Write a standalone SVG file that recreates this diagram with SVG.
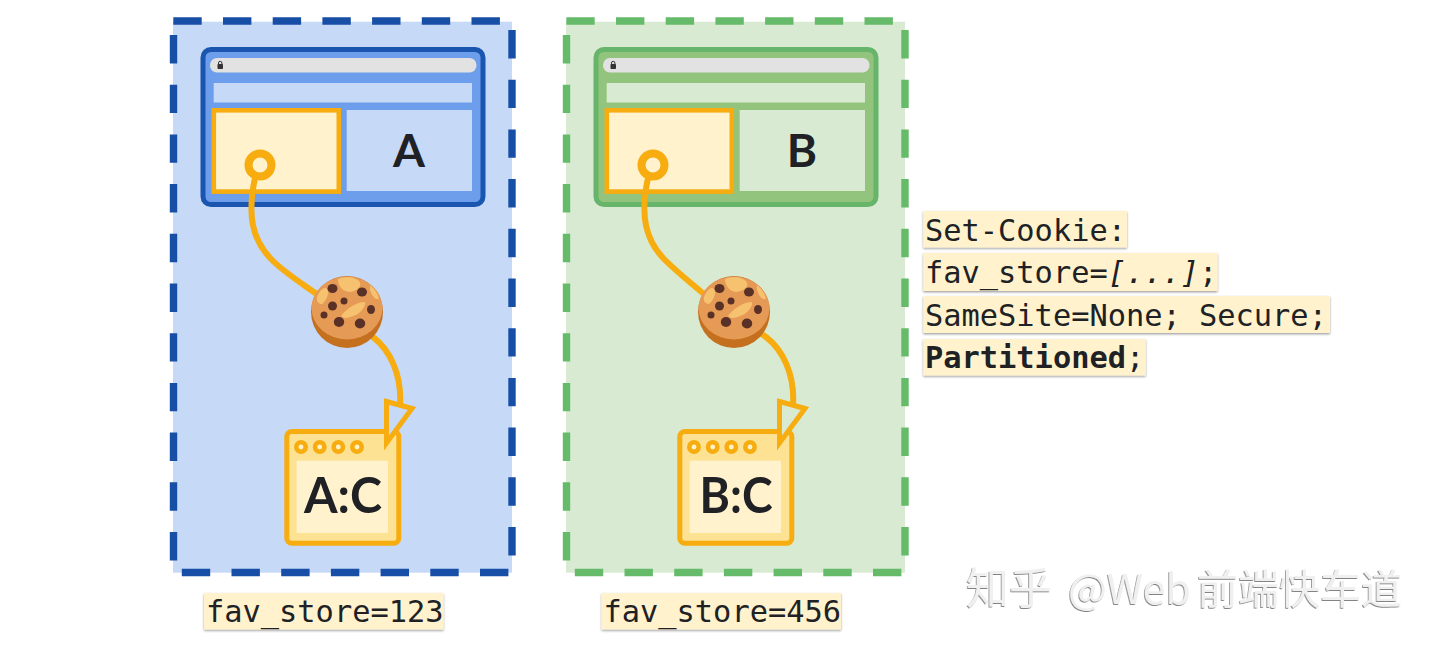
<svg xmlns="http://www.w3.org/2000/svg" width="1440" height="647" viewBox="0 0 1440 647">
<style>
.bg{fill:#fff}
.dash{fill:none;stroke-width:7.4;stroke-dasharray:28.4 21.3;stroke:var(--d)}
.blue{--d:#174ea6;--b:#1a56b0;--m:#6d9eeb;--l:#c6d9f7}
.green{--d:#66bb6a;--b:#66b56b;--m:#93c47d;--l:#d9ead3}
.panel,.light{fill:var(--l);stroke:none}
.frame{stroke-width:5;fill:var(--m);stroke:var(--b)}
.bar{fill:#e2e2e2}
.lock{fill:#333}
.embed{fill:#fff2cc;stroke:#f7ac10;stroke-width:4.6}
.ring{fill:#fff2cc;stroke:#f7ac10;stroke-width:8}
.store{fill:#fde293;stroke:#f7ac10;stroke-width:5}
.storein{fill:#fff2cc}
.dot{fill:#fff2cc;stroke:#f7ac10;stroke-width:4.500}
.big{font-family:Lato,"Liberation Sans",sans-serif;font-weight:700;fill:#202124;text-anchor:middle}
.curve{fill:none;stroke:#f7ac10;stroke-width:6;stroke-linecap:round}
.head{stroke:#f7ac10;stroke-width:5;stroke-linejoin:miter;fill:var(--l)}
.code{fill:#fff2cc;filter:url(#sh)}
.mono{font-family:"DejaVu Sans Mono","Liberation Mono",monospace;font-size:30.350px;fill:#202124}
.wm{font-family:"Noto Sans CJK SC","Liberation Sans",sans-serif;font-size:41px;fill:#f0f0f0;filter:url(#emb)}
</style>
<defs>
<filter id="sh" x="-5%" y="-10%" width="110%" height="125%"><feDropShadow dx="0" dy="1.2" stdDeviation="0.8" flood-color="#000" flood-opacity="0.4"/></filter>
<filter id="emb" x="-5%" y="-10%" width="110%" height="120%"><feDropShadow dx="-0.8" dy="1" stdDeviation="0.5" flood-color="#777" flood-opacity="0.9"/></filter>
<g id="cookie">
<circle r="36" fill="#c4701f"/>
<ellipse cx="0" cy="-4" rx="35.500" ry="31.500" fill="#e59a56"/>
<path d="M-9-33C-2-36 6-36 12-31C16-26 10-21 3-20C-4-20-9-26-9-33ZM-30-15C-27-22-23-26-20-23C-17-19-21-11-25-8C-28-8-31-10-30-15ZM-6 4C0-4 10-10 18-10C19-5 12 3 6 4C2 6-3 7-6 4ZM23-27C28-23 31-18 32-13C28-12 25-16 23-22Z" fill="#f6c26f"/>
<g fill="#5a3127"><ellipse cx="-14.500" cy="-23.500" rx="5" ry="4.500"/><ellipse cx="15" cy="-20" rx="5" ry="4.500"/><ellipse cx="-3" cy="-11" rx="3.500" ry="3.500"/><ellipse cx="-14.500" cy="-6" rx="4.500" ry="4.500"/><ellipse cx="24" cy="-2.500" rx="4" ry="4.500"/><ellipse cx="-23" cy="3" rx="3.500" ry="3.500"/><ellipse cx="-8" cy="10" rx="5.200" ry="5"/><ellipse cx="13" cy="11.500" rx="5.200" ry="5"/></g>
</g>
<g id="browser">
<rect class="frame" x="203" y="49.500" width="280" height="155" rx="8"/>
<rect class="bar" x="210" y="58" width="266.500" height="14.500" rx="7"/>
<rect class="lock" x="217.500" y="64" width="5.500" height="5" rx="0.800"/>
<path d="M218.500 64.500v-1.500a1.700 1.700 0 0 1 3.400 0v1.500" fill="none" stroke="#333" stroke-width="1"/>
<rect class="light" x="213.700" y="83" width="258.300" height="19.500"/>
<rect class="light" x="346.700" y="110" width="125.300" height="81"/>
<rect class="embed" x="213.800" y="110.300" width="125" height="81.300"/>
</g>
<g id="store">
<rect class="store" x="286.800" y="431.500" width="112" height="111.700" rx="5"/>
<rect class="storein" x="296.700" y="460.700" width="91.300" height="72.300"/>
<circle class="dot" cx="301" cy="447" r="4.700"/><circle class="dot" cx="319.700" cy="447" r="4.700"/><circle class="dot" cx="338.300" cy="447" r="4.700"/><circle class="dot" cx="357" cy="447" r="4.700"/>
</g>
</defs>
<rect class="bg" width="1440" height="647"/>

<g id="partition-a" class="blue">
<rect class="panel" x="173" y="21.700" width="339" height="551"/>
<path class="dash" d="M173.300 21H512"/>
<path class="dash" d="M512 30V573"/>
<path class="dash" d="M508.400 572.500H173"/>
<path class="dash" d="M173.500 35V573"/>
</g>
<g id="partition-b" class="green">
<rect class="panel" x="566" y="21.700" width="339" height="551"/>
<path class="dash" d="M566.300 21H905"/>
<path class="dash" d="M905 30V573"/>
<path class="dash" d="M901.400 572.500H566"/>
<path class="dash" d="M566.500 35V573"/>
</g>

<g id="browser-a" class="blue"><use href="#browser"/><text class="big" x="409" y="167" font-size="46">A</text></g>
<g id="browser-b" class="green"><use href="#browser" x="393"/><text class="big" x="802" y="167" font-size="46">B</text></g>

<g id="store-a"><use href="#store"/><text class="big" x="343" y="513" font-size="50" textLength="78" lengthAdjust="spacingAndGlyphs">A:C</text></g>
<g id="store-b"><use href="#store" x="393"/><text class="big" x="736" y="513" font-size="50" textLength="73" lengthAdjust="spacingAndGlyphs">B:C</text></g>

<g id="connectors">
<path class="curve" d="M255 178C247 215 252 240 272 260C285 273 300 282 318 295L345 312L373 337C390 350 402 375 400 405"/>
<polygon class="head blue" points="386.500,401.500 412,408.500 386.500,443"/>
<path class="curve" d="M648 178C640 215 645 240 665 260C678 273 690 282 705 295L766 337C783 350 795 375 793 405"/>
<polygon class="head green" points="779.500,401.500 805,408.500 779.500,443"/>
</g>

<g id="origin-a"><circle class="ring" cx="260" cy="165" r="11.500"/></g>
<g id="origin-b"><circle class="ring" cx="653" cy="165" r="11.500"/></g>
<g id="cookie-a"><use href="#cookie" x="347" y="312"/></g>
<g id="cookie-b"><use href="#cookie" x="734" y="312"/></g>

<g id="label-a"><rect class="code" x="204" y="593" width="239.500" height="36.500"/><text class="mono" x="206" y="622">fav_store=123</text></g>
<g id="label-b"><rect class="code" x="601.500" y="593" width="239.500" height="36.500"/><text class="mono" x="603.500" y="622">fav_store=456</text></g>

<g id="set-cookie">
<rect class="code" x="923.300" y="211" width="203.700" height="36.500"/>
<rect class="code" x="923.300" y="253" width="294.200" height="38"/>
<rect class="code" x="923.300" y="296" width="406.700" height="37"/>
<rect class="code" x="923.300" y="339" width="222.400" height="36.500"/>
<text class="mono" x="925" y="241">Set-Cookie:</text>
<text class="mono" x="925" y="283">fav_store=<tspan font-style="italic">[...]</tspan>;</text>
<text class="mono" x="925" y="326">SameSite=None; Secure;</text>
<text class="mono" x="925" y="368"><tspan font-weight="700">Partitioned</tspan>;</text>
</g>

<text class="wm" y="604"><tspan x="966" font-size="43">知乎</tspan><tspan x="1068">@Web</tspan><tspan x="1197">前端快车道</tspan></text>
</svg>
